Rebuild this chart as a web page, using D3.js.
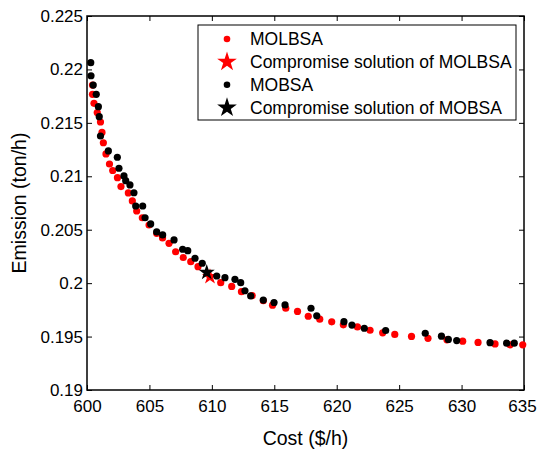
<!DOCTYPE html>
<html>
<head>
<meta charset="utf-8">
<script src="https://cdn.jsdelivr.net/npm/d3@7"></script>
<style>
  body { margin: 0; background: #fff; }
  text { font-family: "Liberation Sans", Arial, sans-serif; }
</style>
</head>
<body>
<script>
// MOLBSA Pareto front (cost $/h, emission ton/h)
const molbsaCost = [600.44, 600.44, 600.56, 600.82, 601.08, 601.20, 601.31, 601.52, 601.80, 602.06,
  602.44, 602.72, 603.31, 603.63, 603.98, 604.43, 604.97, 605.58, 606.05, 606.57,
  607.10, 607.71, 608.31, 608.89, 610.71, 611.59, 612.37, 613.23, 614.12, 614.86,
  615.92, 616.86, 617.72, 618.64, 619.60, 620.53, 621.66, 622.67, 623.68, 624.65,
  625.99, 627.31, 628.83, 630.09, 631.32, 632.68, 633.88, 634.90];
const molbsaEmission = [0.21854, 0.21767, 0.21683, 0.21597, 0.21508, 0.21410, 0.21314, 0.21209, 0.21115, 0.21054,
  0.20987, 0.20904, 0.20844, 0.20769, 0.20675, 0.20612, 0.20544, 0.20466, 0.20423, 0.20373,
  0.20294, 0.20240, 0.20201, 0.20154, 0.20004, 0.19969, 0.19920, 0.19884, 0.19835, 0.19794,
  0.19765, 0.19735, 0.19690, 0.19663, 0.19638, 0.19610, 0.19590, 0.19559, 0.19535, 0.19520,
  0.19501, 0.19484, 0.19470, 0.19457, 0.19445, 0.19431, 0.19423, 0.19423];

// MOBSA Pareto front
const mobsaCost = [600.30, 600.32, 600.50, 600.74, 600.91, 600.98, 601.08, 601.71, 602.43, 602.56,
  602.96, 603.10, 603.44, 603.76, 603.90, 604.46, 604.65, 605.10, 605.58, 606.06,
  606.97, 607.66, 608.07, 608.65, 609.23, 610.39, 611.05, 611.85, 612.31, 612.65,
  613.11, 614.12, 614.98, 615.86, 617.94, 618.40, 620.58, 621.22, 622.21, 623.92,
  627.09, 628.39, 628.94, 629.61, 632.28, 633.61, 634.22];
const mobsaEmission = [0.22063, 0.21941, 0.21854, 0.21767, 0.21651, 0.21558, 0.21377, 0.21237, 0.21178, 0.21075,
  0.21003, 0.20959, 0.20919, 0.20846, 0.20722, 0.20722, 0.20612, 0.20554, 0.20479, 0.20451,
  0.20404, 0.20317, 0.20304, 0.20233, 0.20186, 0.20067, 0.20051, 0.20036, 0.20004, 0.19929,
  0.19880, 0.19842, 0.19819, 0.19796, 0.19765, 0.19695, 0.19639, 0.19608, 0.19578, 0.19557,
  0.19531, 0.19504, 0.19473, 0.19463, 0.19443, 0.19438, 0.19438];

// compromise solutions [cost, emission]
const molbsaBest = [609.85, 0.20060];
const mobsaBest = [609.59, 0.20100];

const xTicks = [600, 605, 610, 615, 620, 625, 630, 635];
const yTicks = [0.19, 0.195, 0.2, 0.205, 0.21, 0.215, 0.22, 0.225];
const legendLabels = ["MOLBSA", "Compromise solution of MOLBSA", "MOBSA", "Compromise solution of MOBSA"];

const width = 537, height = 453;
const margin = {top: 16, right: 13, bottom: 63, left: 87};

const svg = d3.select("body").append("svg")
    .attr("width", width)
    .attr("height", height);

const x = d3.scaleLinear().domain([600, 635]).range([margin.left, width - margin.right]);
const y = d3.scaleLinear().domain([0.19, 0.225]).range([height - margin.bottom, margin.top]);

const fmtY = d => d3.format(".3~f")(d);

// axes: ticks pointing inward on all four sides
const axisStyle = g => {
    g.select(".domain").remove();
    g.selectAll("line").attr("stroke", "#000").attr("stroke-width", 1);
    g.selectAll("text").attr("fill", "#000").style("font-size", "17px");
};

const xAxisG = svg.append("g")
    .attr("transform", `translate(0,${y.range()[0]})`)
    .call(d3.axisBottom(x).tickValues(xTicks).tickSize(-5).tickPadding(10))
    .call(axisStyle);
// keep the last label inside the page
xAxisG.selectAll(".tick").filter(d => d === 635).select("text").attr("dx", "-2");

svg.append("g")
    .attr("transform", `translate(0,${y.range()[1]})`)
    .call(d3.axisTop(x).tickValues(xTicks).tickSize(-5).tickFormat(""))
    .call(axisStyle);
svg.append("g")
    .attr("transform", `translate(${x.range()[0]},0)`)
    .call(d3.axisLeft(y).tickValues(yTicks).tickSize(-5).tickPadding(4).tickFormat(fmtY))
    .call(axisStyle);
svg.append("g")
    .attr("transform", `translate(${x.range()[1]},0)`)
    .call(d3.axisRight(y).tickValues(yTicks).tickSize(-5).tickFormat(""))
    .call(axisStyle);

svg.append("rect")
    .attr("x", x.range()[0]).attr("y", y.range()[1])
    .attr("width", x.range()[1] - x.range()[0])
    .attr("height", y.range()[0] - y.range()[1])
    .attr("fill", "none").attr("stroke", "#000").attr("stroke-width", 1.5);

const starPath = d3.symbol().type(d3.symbolStar).size(80);

// MOLBSA
svg.append("g").selectAll("circle")
    .data(d3.zip(molbsaCost, molbsaEmission))
    .join("circle")
    .attr("cx", d => x(d[0])).attr("cy", d => y(d[1]))
    .attr("r", 3.6).attr("fill", "#ff0000");
svg.append("path")
    .attr("d", starPath)
    .attr("transform", `translate(${x(molbsaBest[0])},${y(molbsaBest[1])})`)
    .attr("fill", "#ff0000");

// MOBSA
svg.append("g").selectAll("circle")
    .data(d3.zip(mobsaCost, mobsaEmission))
    .join("circle")
    .attr("cx", d => x(d[0])).attr("cy", d => y(d[1]))
    .attr("r", 3.6).attr("fill", "#000");
svg.append("path")
    .attr("d", starPath)
    .attr("transform", `translate(${x(mobsaBest[0])},${y(mobsaBest[1])})`)
    .attr("fill", "#000");

// axis titles
svg.append("text")
    .attr("x", (x.range()[0] + x.range()[1]) / 2)
    .attr("y", 445)
    .attr("text-anchor", "middle")
    .style("font-size", "19.5px")
    .text("Cost ($/h)");
svg.append("text")
    .attr("transform", `translate(26,${(y.range()[0] + y.range()[1]) / 2}) rotate(-90)`)
    .attr("text-anchor", "middle")
    .style("font-size", "19.5px")
    .text("Emission (ton/h)");

// legend
const legend = svg.append("g").attr("transform", "translate(198,25)");
legend.append("rect")
    .attr("width", 318).attr("height", 95)
    .attr("fill", "#fff").attr("stroke", "#000").attr("stroke-width", 1);
const legendColors = ["#ff0000", "#ff0000", "#000", "#000"];
const legendStar = [false, true, false, true];
legendLabels.forEach((label, i) => {
    const cy = 14 + i * 22.9;
    if (legendStar[i]) {
        legend.append("path")
            .attr("d", d3.symbol().type(d3.symbolStar).size(120))
            .attr("transform", `translate(29,${cy})`)
            .attr("fill", legendColors[i]);
    } else {
        legend.append("circle")
            .attr("cx", 29).attr("cy", cy).attr("r", 3.3)
            .attr("fill", legendColors[i]);
    }
    legend.append("text")
        .attr("x", 52).attr("y", cy + 6)
        .style("font-size", "17.5px")
        .text(label);
});
</script>
</body>
</html>
